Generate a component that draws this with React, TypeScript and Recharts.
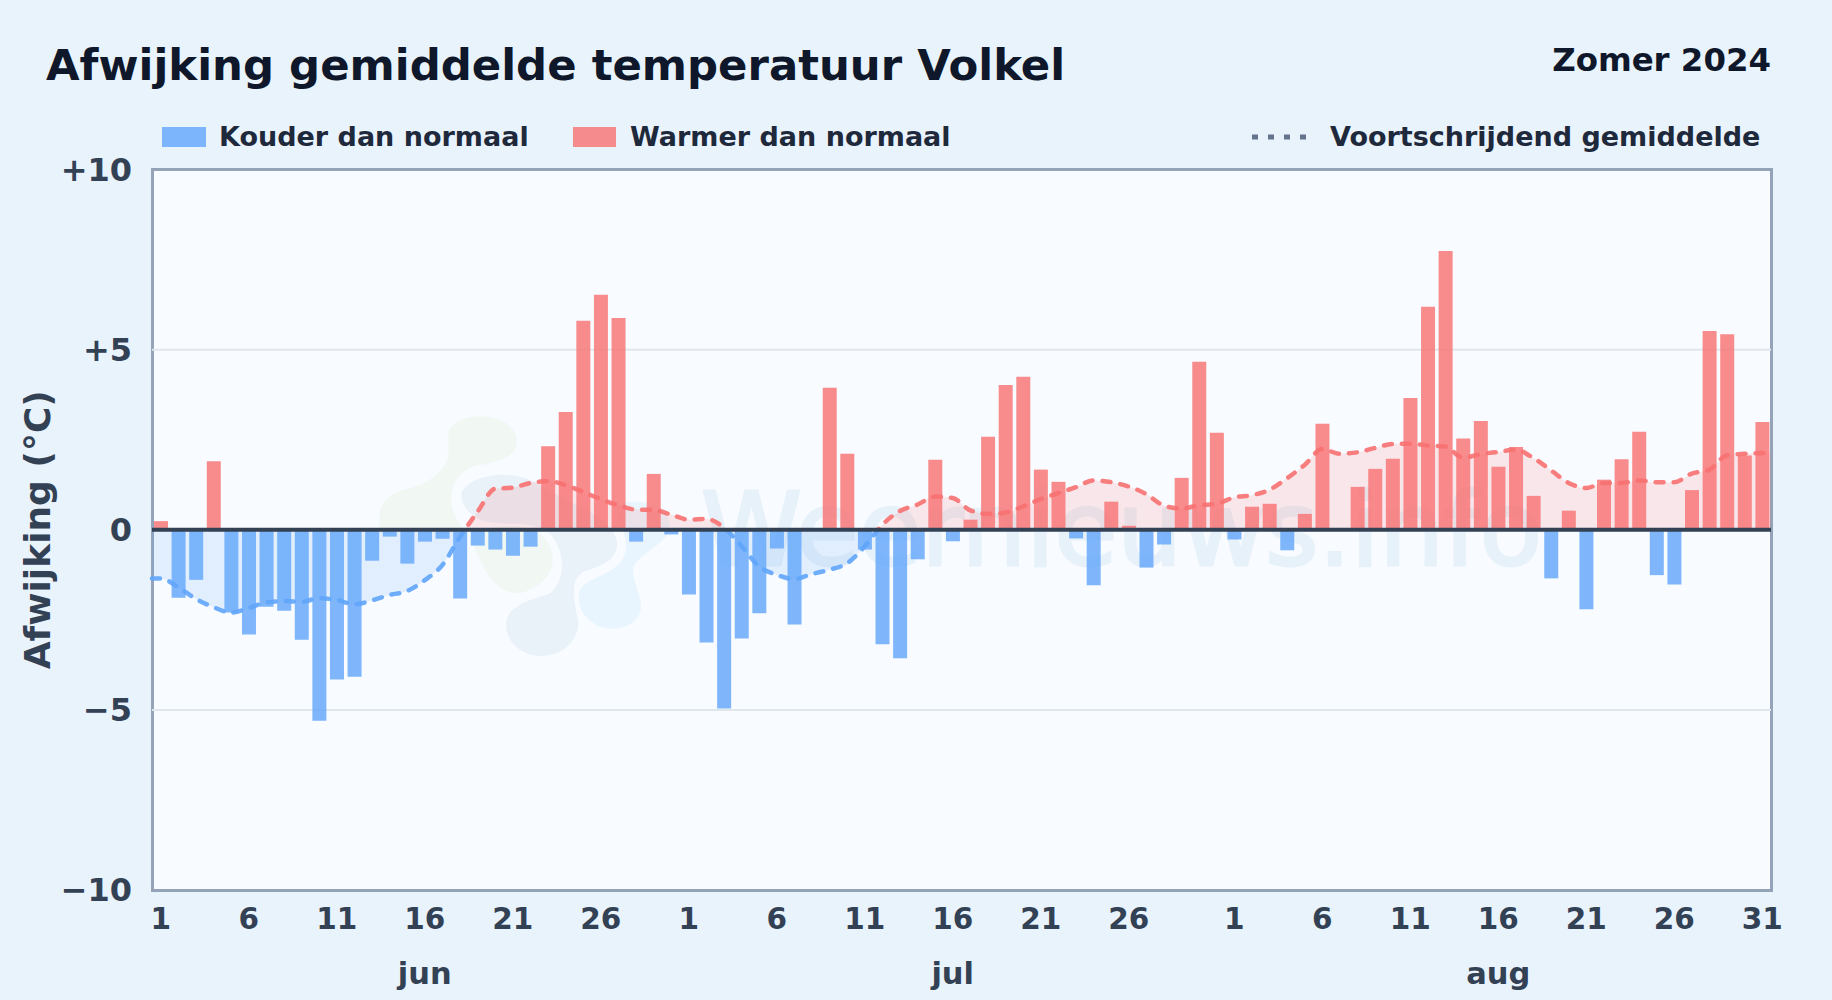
import React from "react";
import {
  ComposedChart,
  Area,
  Bar,
  Line,
  XAxis,
  YAxis,
  CartesianGrid,
  ReferenceLine,
  Legend,
} from "recharts";

const FONT = "'DejaVu Sans', sans-serif";

const juneDeviation = [
  0.24, -1.89, -1.39, 1.9, -2.3, -2.91, -2.14, -2.25, -3.05, -5.3, -4.16, -4.08, -0.86, -0.19, -0.94,
  -0.33, -0.25, -1.91, -0.44, -0.55, -0.72, -0.47, 2.32, 3.27, 5.8, 6.52, 5.88, -0.33, 1.55, -0.13,
];
const julyDeviation = [
  -1.8, -3.13, -4.96, -3.02, -2.32, -0.52, -2.63, 0, 3.94, 2.11, -0.55, -3.18, -3.57, -0.82, 1.94, -0.32,
  0.28, 2.58, 4.02, 4.25, 1.67, 1.33, -0.24, -1.54, 0.78, 0.11, -1.05, -0.41, 1.44, 4.66, 2.69,
];
const augustDeviation = [
  -0.27, 0.64, 0.72, -0.57, 0.44, 2.94, 0, 1.19, 1.69, 1.97, 3.66, 6.19, 7.74, 2.53, 3.02, 1.75,
  2.3, 0.94, -1.35, 0.53, -2.21, 1.39, 1.96, 2.72, -1.26, -1.52, 1.1, 5.52, 5.43, 2.06, 2.99,
];

const juneAverage = [
  -1.35, -1.6, -1.92, -2.15, -2.3, -2.17, -2.02, -1.98, -2.0, -1.9, -1.95, -2.07, -1.96, -1.81, -1.7,
  -1.4, -0.98, -0.2, 0.5, 1.14, 1.17, 1.3, 1.35, 1.24, 1.05, 0.85, 0.68, 0.56, 0.55, 0.42,
];
const julyAverage = [
  0.28, 0.3, 0.06, -0.46, -1.02, -1.25, -1.37, -1.23, -1.11, -0.93, -0.46, 0.14, 0.52, 0.7, 0.92, 0.88,
  0.54, 0.44, 0.48, 0.65, 0.85, 1.02, 1.18, 1.37, 1.32, 1.2, 0.99, 0.67, 0.59, 0.68, 0.72,
];
const augustAverage = [
  0.9, 0.96, 1.11, 1.43, 1.8, 2.24, 2.11, 2.15, 2.27, 2.38, 2.39, 2.34, 2.31, 2.0, 2.1, 2.16,
  2.22, 1.99, 1.65, 1.3, 1.16, 1.3, 1.3, 1.37, 1.32, 1.32, 1.56, 1.67, 2.07, 2.11, 2.13,
];

const dayLabels = [
  ...juneDeviation.map((_, i) => i + 1),
  ...julyDeviation.map((_, i) => i + 1),
  ...augustDeviation.map((_, i) => i + 1),
];
const deviation = [...juneDeviation, ...julyDeviation, ...augustDeviation];
const average = [...juneAverage, ...julyAverage, ...augustAverage];

const dayTicks = [0, 5, 10, 15, 20, 25, 30, 35, 40, 45, 50, 55, 61, 66, 71, 76, 81, 86, 91];
const monthTicks = [15, 45, 76];
const monthLabels: Record<number, string> = { 15: "jun", 45: "jul", 76: "aug" };
const valueTicks = [-10, -5, 0, 5, 10];

const data = deviation.map((value, index) => ({
  index,
  warm: value > 0 ? value : null,
  cold: value < 0 ? value : null,
}));

// the moving average runs from plot edge to plot edge, so it sits on its own numeric axis
const averageData = [
  { pos: 0, average: average[0] },
  ...average.map((value, index) => ({ pos: index + 0.5, average: value })),
  { pos: average.length, average: average[average.length - 1] },
];

const formatValue = (value: number) => {
  if (value > 0) return `+${value}`;
  if (value < 0) return `\u2212${Math.abs(value)}`;
  return "0";
};

const ChartLegend = () => (
  <div style={{ position: "relative", width: 1832, height: 30, fontFamily: FONT, fontWeight: 700, fontSize: 27, color: "#1e293b" }}>
    <span style={{ position: "absolute", left: 162, top: 5, width: 44, height: 20, background: "#60a5fa", opacity: 0.8 }} />
    <span style={{ position: "absolute", left: 219, top: 0, lineHeight: "30px" }}>Kouder dan normaal</span>
    <span style={{ position: "absolute", left: 573, top: 5, width: 43, height: 20, background: "#f87171", opacity: 0.8 }} />
    <span style={{ position: "absolute", left: 630, top: 0, lineHeight: "30px" }}>Warmer dan normaal</span>
    <svg style={{ position: "absolute", left: 1248, top: 0 }} width={64} height={30}>
      <line x1={4} x2={60} y1={15} y2={15} stroke="#64748b" strokeWidth={5} strokeDasharray="6 10" />
    </svg>
    <span style={{ position: "absolute", left: 1330, top: 0, lineHeight: "30px" }}>Voortschrijdend gemiddelde</span>
  </div>
);

// faint site logo and name behind the plot
const Watermark = () => (
  <svg style={{ position: "absolute", left: 0, top: 0 }} width={1832} height={1000}>
    <g transform="translate(360 390) scale(0.3333)">
      <path
        d="M265,130 C270,70 440,50 470,140 C480,200 420,215 360,225 C300,235 270,280 275,340 C280,380 300,400 320,430 L60,430 C50,370 60,320 130,300 C200,285 250,250 265,200 Z"
        fill="#f1f8f3"
      />
      <path d="M330,440 C400,400 500,395 550,440 C600,490 590,580 480,610 C400,610 370,540 330,440 Z" fill="#f1f8f3" />
      <path
        d="M305,310 C320,260 450,230 530,280 C600,330 750,370 770,450 C780,510 720,530 670,545 C630,570 640,620 655,700 C650,770 590,800 540,798 C480,795 430,750 440,690 C455,640 520,630 570,610 C620,570 620,480 560,420 C500,395 430,405 380,395 C340,385 300,350 305,310 Z"
        fill="#e9f1f9"
      />
      <path
        d="M770,345 C820,320 930,340 930,410 C925,460 850,480 820,530 C815,580 850,620 842,660 C830,710 770,725 720,710 C670,690 645,640 660,600 C680,565 740,560 780,520 C810,480 800,430 775,400 Z"
        fill="#e9f5fe"
      />
    </g>
    <text x={701} y={565} fontFamily={FONT} fontSize={102} fill="#e7f1f9" stroke="#e7f1f9" strokeWidth={3}>
      Weernieuws.info
    </text>
  </svg>
);

export default function App() {
  return (
    <div style={{ position: "absolute", left: 0, top: 0, width: 1832, height: 1000, background: "#e9f3fc", overflow: "hidden" }}>
      <div style={{ position: "absolute", left: 46, top: 37, fontFamily: FONT, fontWeight: 700, fontSize: 43.4, lineHeight: "56px", color: "#0f172a", whiteSpace: "nowrap" }}>
        Afwijking gemiddelde temperatuur Volkel
      </div>
      <div style={{ position: "absolute", right: 61, top: 41, fontFamily: FONT, fontWeight: 700, fontSize: 32.4, lineHeight: "38px", color: "#0f172a", whiteSpace: "nowrap" }}>
        Zomer 2024
      </div>
      <div
        style={{
          position: "absolute",
          left: 151,
          top: 168,
          width: 1622,
          height: 724,
          boxSizing: "border-box",
          border: "3px solid #94a3b8",
          background: "#f8fbff",
        }}
      />
      <Watermark />
      <div style={{ position: "absolute", left: 0, top: 0 }}>
        <ComposedChart
          width={1832}
          height={1000}
          data={data}
          barCategoryGap={0}
          stackOffset="sign"
          margin={{ top: 169.5, right: 61, left: 0, bottom: 0 }}
        >
          <defs>
            <linearGradient id="signStroke" gradientUnits="userSpaceOnUse" x1={0} y1={169.5} x2={0} y2={890.5}>
              <stop offset="50%" stopColor="#f87171" />
              <stop offset="50%" stopColor="#60a5fa" />
            </linearGradient>
          </defs>
          <CartesianGrid vertical={false} stroke="#e0e7ec" strokeWidth={2} horizontalValues={[-5, 5]} />
          <XAxis
            dataKey="index"
            xAxisId={0}
            height={50}
            ticks={dayTicks}
            interval={0}
            tickFormatter={(v: number) => String(dayLabels[v])}
            axisLine={false}
            tickLine={false}
            tick={{ fontFamily: FONT, fontWeight: 700, fontSize: 29.5, fill: "#334155" }}
            tickMargin={12}
          />
          <XAxis
            dataKey="index"
            xAxisId="month"
            height={60}
            ticks={monthTicks}
            interval={0}
            tickFormatter={(v: number) => monthLabels[v]}
            axisLine={false}
            tickLine={false}
            tick={{ fontFamily: FONT, fontWeight: 700, fontSize: 30.5, fill: "#334155" }}
            tickMargin={16}
          />
          <XAxis dataKey="pos" xAxisId="edge" type="number" domain={[0, 92]} orientation="top" height={0} hide />
          <YAxis
            width={152}
            domain={[-10, 10]}
            ticks={valueTicks}
            interval={0}
            tickFormatter={formatValue}
            axisLine={false}
            tickLine={false}
            tickMargin={14}
            tick={{ fontFamily: FONT, fontWeight: 700, fontSize: 32, fill: "#334155" }}
            label={{
              value: "Afwijking (°C)",
              angle: -90,
              position: "insideLeft",
              offset: 37,
              style: { fontFamily: FONT, fontWeight: 700, fontSize: 36, fill: "#334155", textAnchor: "middle" },
            }}
          />
          <Legend
            layout="horizontal"
            verticalAlign="middle"
            align="center"
            content={<ChartLegend />}
            wrapperStyle={{ position: "absolute", left: 0, top: 122, width: 1832, margin: 0 }}
          />
          <Area
            data={averageData}
            xAxisId="edge"
            dataKey="average"
            type="monotone"
            stroke="none"
            fill="url(#signStroke)"
            fillOpacity={0.15}
            isAnimationActive={false}
            dot={false}
            activeDot={false}
          />
          <Bar dataKey="cold" stackId="d" fill="#60a5fa" fillOpacity={0.8} barSize={14} isAnimationActive={false} />
          <Bar dataKey="warm" stackId="d" fill="#f87171" fillOpacity={0.8} barSize={14} isAnimationActive={false} />
          <Line
            data={averageData}
            xAxisId="edge"
            dataKey="average"
            type="monotone"
            stroke="url(#signStroke)"
            strokeWidth={4.5}
            strokeOpacity={0.9}
            strokeDasharray="8 10"
            strokeLinecap="round"
            dot={false}
            activeDot={false}
            isAnimationActive={false}
          />
          <ReferenceLine y={0} stroke="#334155" strokeWidth={4} />
        </ComposedChart>
      </div>
    </div>
  );
}
